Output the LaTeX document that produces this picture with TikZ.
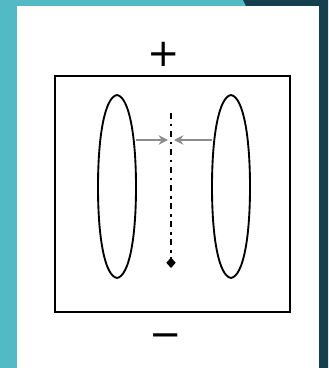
\documentclass[tikz,border=0pt]{standalone}
\usepackage{fontspec}
\usetikzlibrary{arrows.meta}
\newfontfamily\signfont{DejaVu Sans}
\definecolor{tealbg}{RGB}{82,186,196}
\definecolor{darkbg}{RGB}{21,62,78}
\definecolor{pullgray}{RGB}{140,140,140}
\tikzset{
  sign/.style={font=\signfont\fontsize{33}{33}\selectfont, inner sep=0pt},
  pull/.style={pullgray, line width=1.6pt, -{Stealth[length=8pt,width=8pt]}},
}
\begin{document}
\begin{tikzpicture}[x=0.03cm,y=-0.03cm,line width=1.6pt]
  \useasboundingbox (0,0) rectangle (328,368);
  % background
  \fill[tealbg] (0,0) rectangle (328,368);
  \fill[darkbg] (243,0) -- (328,0) -- (328,368) -- (319,368) -- (319,6) -- (246,6) -- cycle;
  \fill[white] (17,6) rectangle (319,368);
  % plates
  \draw (55,76) rectangle (290,312);
  \node[sign] (plus) at (164,54) {+};
  \node[sign] (minus) at (166,341) {−};
  % lenses
  \draw (117,95) .. controls (129,97) and (136,135) .. (136,187) .. controls (136,239) and (129,276) .. (117,278)
    .. controls (105,276) and (98,239) .. (98,187) .. controls (98,135) and (105,97) .. cycle;
  \draw (231,95) .. controls (243,97) and (250,135) .. (250,187) .. controls (250,239) and (243,276) .. (231,278)
    .. controls (219,276) and (212,239) .. (212,187) .. controls (212,135) and (219,97) .. cycle;
  % axis
  \coordinate (axtop) at (171,113);
  \coordinate (axbot) at (171,268);
  \coordinate (axl) at (168,140);
  \coordinate (axr) at (174,140);
  \coordinate (lensl) at (136,140);
  \coordinate (lensr) at (212,140);
  \draw[line width=2.4pt, dash pattern=on 5pt off 4pt on 2.4pt off 4pt, -{Diamond[length=9pt,width=8pt]}] (axtop) -- (axbot);
  \draw[pull] (lensl) -- (axl);
  \draw[pull] (lensr) -- (axr);
\end{tikzpicture}
\end{document}
